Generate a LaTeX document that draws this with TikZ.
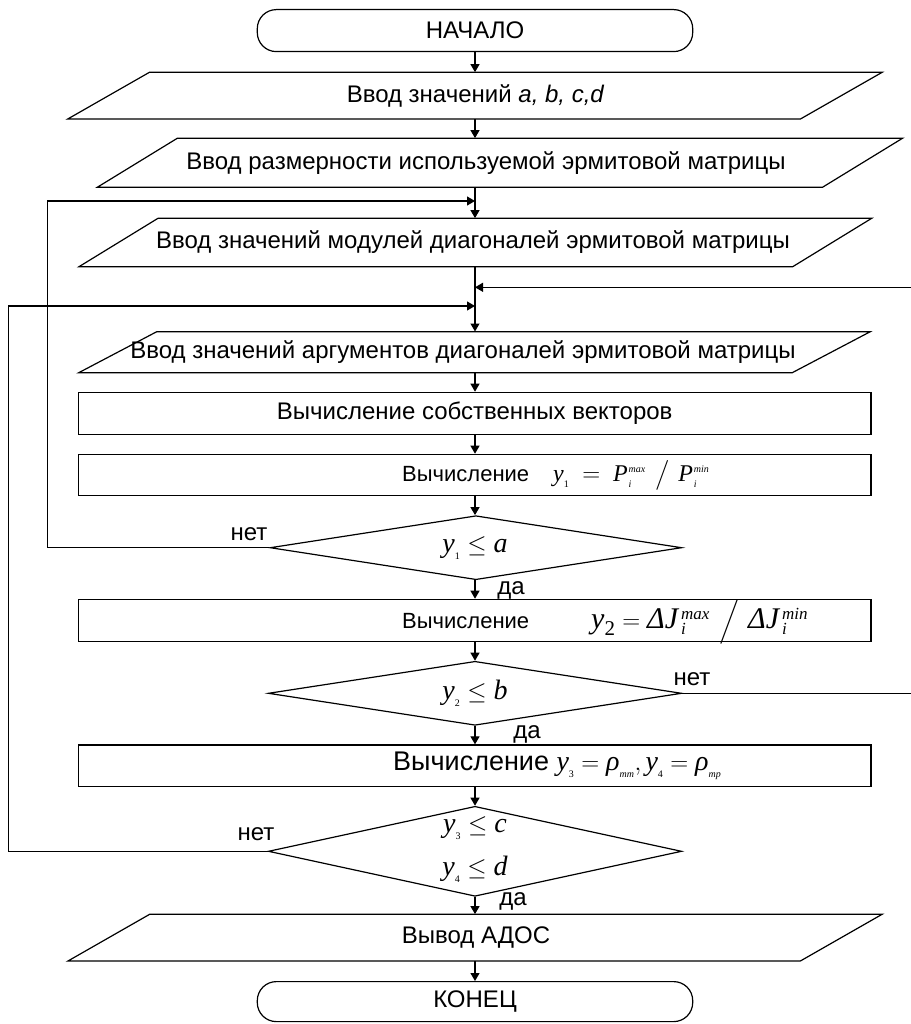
\documentclass[tikz,border=0pt]{standalone}
\usepackage{amsmath}
\usepackage{fontspec}
\setmainfont{Liberation Sans}
\newfontfamily\tms{Liberation Serif}
\usetikzlibrary{arrows.meta,shapes.geometric}
\newcommand\tv[1]{\text{\tms\itshape #1}}
\newcommand\tn[1]{\text{\tms #1}}
\newcommand\sm[1]{\text{\fontsize{10}{10}\selectfont\tms\itshape #1}}
\newcommand\smn[1]{\text{\fontsize{10}{10}\selectfont\tms #1}}
\newcommand\md[1]{\text{\fontsize{17}{17}\selectfont\tms\itshape #1}}
\newcommand\IOpar[5]{\draw[shp] ({#1-#3/2+#5/2},{#2-#4/2}) -- ({#1+#3/2+#5/2},{#2-#4/2}) -- ({#1+#3/2-#5/2},{#2+#4/2}) -- ({#1-#3/2-#5/2},{#2+#4/2}) -- cycle;}
\begin{document}
\begin{tikzpicture}[x=1pt,y=-1pt,font=\fontsize{24}{28}\selectfont,
  shp/.style={line width=1.2pt},
  term/.style={draw,line width=1.2pt,rounded corners=19pt,minimum width=435.4pt,minimum height=42pt,inner sep=0pt},
  proc/.style={draw,line width=1.2pt,minimum width=792.7pt,inner sep=0pt},
  dec/.style={draw,diamond,line width=1.2pt,inner sep=0pt},
  dtext/.style={inner sep=0pt,font=\fontsize{28}{43}\selectfont,align=center},
  iot/.style={inner sep=0pt},
  lab/.style={inner sep=0pt},
  arr/.style={line width=1.2pt,-{Triangle[length=8pt,width=9pt]}}]
\useasboundingbox (0,0) rectangle (910,1024);
\node[term] (start) at (475,30.6) {НАЧАЛО};
\IOpar{474.85}{95.7}{732.7}{46.7}{81.7}
\node[iot,minimum height=46.7pt] (p1) at (475.6,95.7) {Ввод значений \textit{a, b, c,d}};
\IOpar{499.85}{162.8}{725.2}{49}{80}
\node[iot,minimum height=49pt] (p2) at (486,162.8) {Ввод размерности используемой эрмитовой матрицы};
\IOpar{475.35}{242.5}{713.7}{48.4}{79}
\node[iot,minimum height=48.4pt] (p3) at (473,242.5) {Ввод значений модулей диагоналей эрмитовой матрицы};
\IOpar{474.5}{352.2}{713.5}{41}{78}
\node[iot,minimum height=41pt] (p4) at (463,352.2) {Ввод значений аргументов диагоналей эрмитовой матрицы};
\node[proc,minimum height=42pt] (r1) at (474.65,413.3) {Вычисление собственных векторов};
\node[proc,minimum height=41.4pt] (r2) at (474.65,475) {};
\node[lab,anchor=west] (r2t) at (402,475) {\fontsize{22}{26}\selectfont Вычисление\hspace{24pt}{\fontsize{24}{28}\selectfont$\tv{y}_{\smn{1}}\hspace{6pt}=\hspace{6pt}\tv{P}\kern1pt^{\sm{max}}_{\sm{i}}\hspace{10pt}\big/\hspace{8pt}\tv{P}\kern1pt^{\sm{min}}_{\sm{i}}$}};
\node[dec,minimum width=411.7pt,minimum height=64pt] (d1) at (475.9,547.7) {};
\node[dtext] (d1t) at (475,547.7) {$\tv{y}_{\smn{1}}\le\tv{a}$};
\node[proc,minimum height=42.4pt] (r3) at (474.65,620.5) {};
\node[lab,anchor=west] (r3t) at (402,622) {\fontsize{22}{26}\selectfont Вычисление\hspace{62pt}{\fontsize{30}{34}\selectfont$\tv{y}_{\tn{2}} = \tv{ΔJ}\kern3pt^{\md{max}}_{\md{i}}\hspace{10pt}\Big/\hspace{8pt}\tv{ΔJ}\kern3pt^{\md{min}}_{\md{i}}$}};
\node[dec,minimum width=413.4pt,minimum height=64pt] (d2) at (475,693.3) {};
\node[dtext] (d2t) at (475,693.3) {$\tv{y}_{\smn{2}}\le\tv{b}$};
\node[proc,minimum height=41.7pt] (r4) at (474.65,765.8) {};
\node[lab,anchor=west] (r4t) at (393,765.8) {\fontsize{27}{30}\selectfont Вычисление {\fontsize{28}{30}\selectfont$\tv{y}_{\smn{3}} = \tv{ρ}_{\sm{mm}}, \tv{y}_{\smn{4}} = \tv{ρ}_{\sm{mp}}$}};
\node[dec,minimum width=413.4pt,minimum height=90pt] (d3) at (475,851.3) {};
\node[dtext] (d3t) at (475,849.5) {$\tv{y}_{\smn{3}}\le\tv{c}$\\$\tv{y}_{\smn{4}}\le\tv{d}$};
\IOpar{475}{937.65}{732.4}{46.7}{81.7}
\node[iot,minimum height=46.7pt] (p5) at (476,937.65) {Вывод АДОС};
\node[term,minimum height=40pt] (end) at (475,1001.6) {КОНЕЦ};
\coordinate (j1) at (475,201);
\coordinate (j2) at (475,287.3);
\coordinate (j3) at (475,306);
\coordinate (c1) at (47.7,201);
\coordinate (c2) at (912,287.3);
\coordinate (c3) at (8.3,306);
\draw[arr] (start.south) -- (start.south |- p1.north);
\draw[arr] (start.south |- p1.south) -- (start.south |- p2.north);
\draw[arr] (start.south |- p2.south) -- (start.south |- p3.north);
\draw[arr] (start.south |- p3.south) -- (start.south |- p4.north);
\draw[arr] (start.south |- p4.south) -- (start.south |- r1.north);
\draw[arr] (start.south |- r1.south) -- (start.south |- r2.north);
\draw[arr] (start.south |- r2.south) -- (start.south |- d1.north);
\draw[arr] (start.south |- d1.south) -- (start.south |- r3.north);
\draw[arr] (start.south |- r3.south) -- (start.south |- d2.north);
\draw[arr] (start.south |- d2.south) -- (start.south |- r4.north);
\draw[arr] (start.south |- r4.south) -- (start.south |- d3.north);
\draw[arr] (start.south |- d3.south) -- (start.south |- p5.north);
\draw[arr] (start.south |- p5.south) -- (end.north);
\draw[arr] (d1.west) -| (c1) -- (j1);
\draw[arr] (d2.east) -| (c2) -- (j2);
\draw[arr] (d3.west) -| (c3) -- (j3);
\node[lab] (n1) at (249,534) {нет};
\node[lab] (y1) at (511,590) {да};
\node[lab] (n2) at (692,679) {нет};
\node[lab] (y2) at (527,734) {да};
\node[lab] (n3) at (256,834) {нет};
\node[lab] (y3) at (513,901) {да};
\end{tikzpicture}
\end{document}
